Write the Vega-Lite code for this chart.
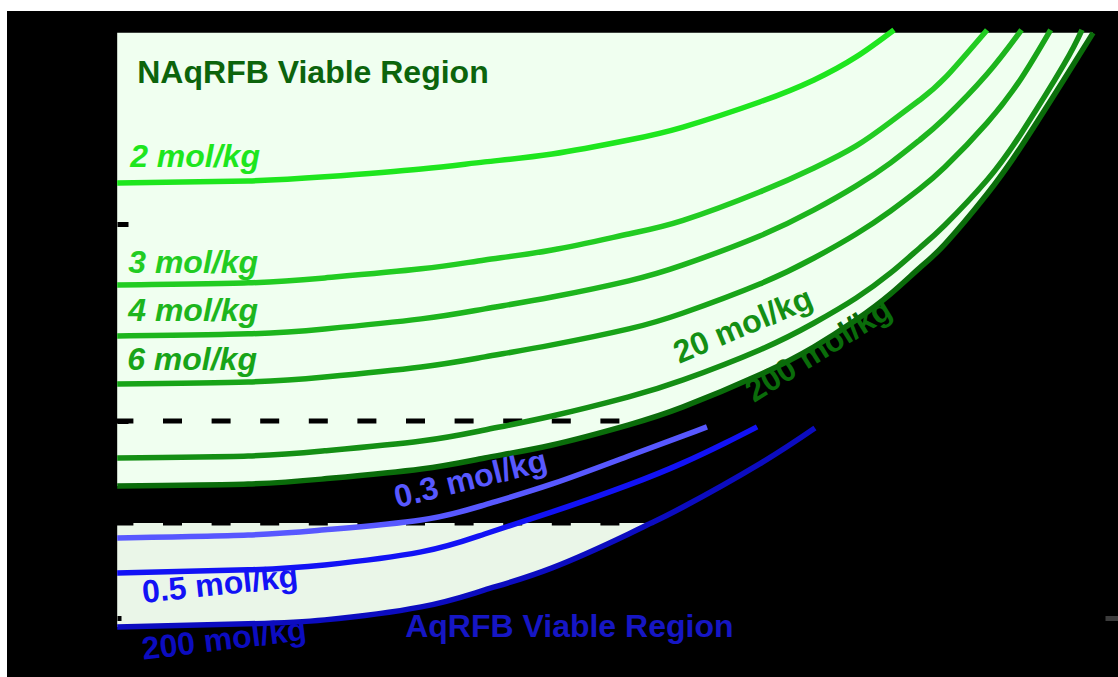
{
  "$schema": "https://vega.github.io/schema/vega-lite/v6.json",
  "width": 1111,
  "height": 666,
  "autosize": {"type": "none"},
  "padding": {"left": 7, "top": 11, "right": 0, "bottom": 0},
  "background": "white",
  "config": {
    "view": {"fill": "black", "stroke": null},
    "font": "Liberation Sans",
    "text": {"font": "Liberation Sans", "fontSize": 32, "fontWeight": "bold"}
  },
  "datasets": {
    "curves": [
      {"series": "NAq 2 mol/kg", "x": 1, "v": 3.208}, {"series": "NAq 2 mol/kg", "x": 2, "v": 3.218}, {"series": "NAq 2 mol/kg", "x": 3, "v": 3.239}, {"series": "NAq 2 mol/kg", "x": 5, "v": 3.279}, {"series": "NAq 2 mol/kg", "x": 7, "v": 3.315}, {"series": "NAq 2 mol/kg", "x": 10, "v": 3.355}, {"series": "NAq 2 mol/kg", "x": 15, "v": 3.426}, {"series": "NAq 2 mol/kg", "x": 20, "v": 3.492}, {"series": "NAq 2 mol/kg", "x": 30, "v": 3.619}, {"series": "NAq 2 mol/kg", "x": 40, "v": 3.731}, {"series": "NAq 2 mol/kg", "x": 50, "v": 3.848}, {"series": "NAq 2 mol/kg", "x": 61.1, "v": 3.985},
      {"series": "NAq 3 mol/kg", "x": 1, "v": 2.69}, {"series": "NAq 3 mol/kg", "x": 2, "v": 2.701}, {"series": "NAq 3 mol/kg", "x": 3, "v": 2.726}, {"series": "NAq 3 mol/kg", "x": 5, "v": 2.772}, {"series": "NAq 3 mol/kg", "x": 7, "v": 2.817}, {"series": "NAq 3 mol/kg", "x": 10, "v": 2.868}, {"series": "NAq 3 mol/kg", "x": 15, "v": 2.949}, {"series": "NAq 3 mol/kg", "x": 20, "v": 3.018}, {"series": "NAq 3 mol/kg", "x": 30, "v": 3.162}, {"series": "NAq 3 mol/kg", "x": 40, "v": 3.284}, {"series": "NAq 3 mol/kg", "x": 50, "v": 3.396}, {"series": "NAq 3 mol/kg", "x": 60, "v": 3.518}, {"series": "NAq 3 mol/kg", "x": 70, "v": 3.629}, {"series": "NAq 3 mol/kg", "x": 80, "v": 3.741}, {"series": "NAq 3 mol/kg", "x": 100, "v": 3.985},
      {"series": "NAq 4 mol/kg", "x": 1, "v": 2.431}, {"series": "NAq 4 mol/kg", "x": 2, "v": 2.442}, {"series": "NAq 4 mol/kg", "x": 3, "v": 2.467}, {"series": "NAq 4 mol/kg", "x": 5, "v": 2.518}, {"series": "NAq 4 mol/kg", "x": 7, "v": 2.569}, {"series": "NAq 4 mol/kg", "x": 10, "v": 2.629}, {"series": "NAq 4 mol/kg", "x": 15, "v": 2.711}, {"series": "NAq 4 mol/kg", "x": 20, "v": 2.792}, {"series": "NAq 4 mol/kg", "x": 30, "v": 2.939}, {"series": "NAq 4 mol/kg", "x": 40, "v": 3.071}, {"series": "NAq 4 mol/kg", "x": 50, "v": 3.193}, {"series": "NAq 4 mol/kg", "x": 60, "v": 3.31}, {"series": "NAq 4 mol/kg", "x": 70, "v": 3.426}, {"series": "NAq 4 mol/kg", "x": 80, "v": 3.538}, {"series": "NAq 4 mol/kg", "x": 100, "v": 3.761}, {"series": "NAq 4 mol/kg", "x": 120, "v": 3.985},
      {"series": "NAq 6 mol/kg", "x": 1, "v": 2.188}, {"series": "NAq 6 mol/kg", "x": 2, "v": 2.198}, {"series": "NAq 6 mol/kg", "x": 3, "v": 2.223}, {"series": "NAq 6 mol/kg", "x": 5, "v": 2.274}, {"series": "NAq 6 mol/kg", "x": 7, "v": 2.325}, {"series": "NAq 6 mol/kg", "x": 10, "v": 2.386}, {"series": "NAq 6 mol/kg", "x": 15, "v": 2.467}, {"series": "NAq 6 mol/kg", "x": 20, "v": 2.548}, {"series": "NAq 6 mol/kg", "x": 30, "v": 2.695}, {"series": "NAq 6 mol/kg", "x": 40, "v": 2.827}, {"series": "NAq 6 mol/kg", "x": 50, "v": 2.949}, {"series": "NAq 6 mol/kg", "x": 60, "v": 3.066}, {"series": "NAq 6 mol/kg", "x": 70, "v": 3.178}, {"series": "NAq 6 mol/kg", "x": 80, "v": 3.289}, {"series": "NAq 6 mol/kg", "x": 100, "v": 3.513}, {"series": "NAq 6 mol/kg", "x": 120, "v": 3.741}, {"series": "NAq 6 mol/kg", "x": 140, "v": 3.985},
      {"series": "NAq 20 mol/kg", "x": 1, "v": 1.812}, {"series": "NAq 20 mol/kg", "x": 2, "v": 1.822}, {"series": "NAq 20 mol/kg", "x": 3, "v": 1.848}, {"series": "NAq 20 mol/kg", "x": 5, "v": 1.898}, {"series": "NAq 20 mol/kg", "x": 7, "v": 1.954}, {"series": "NAq 20 mol/kg", "x": 10, "v": 2.025}, {"series": "NAq 20 mol/kg", "x": 15, "v": 2.122}, {"series": "NAq 20 mol/kg", "x": 20, "v": 2.208}, {"series": "NAq 20 mol/kg", "x": 30, "v": 2.36}, {"series": "NAq 20 mol/kg", "x": 40, "v": 2.497}, {"series": "NAq 20 mol/kg", "x": 50, "v": 2.624}, {"series": "NAq 20 mol/kg", "x": 60, "v": 2.751}, {"series": "NAq 20 mol/kg", "x": 70, "v": 2.878}, {"series": "NAq 20 mol/kg", "x": 80, "v": 2.995}, {"series": "NAq 20 mol/kg", "x": 100, "v": 3.223}, {"series": "NAq 20 mol/kg", "x": 120, "v": 3.462}, {"series": "NAq 20 mol/kg", "x": 150, "v": 3.807}, {"series": "NAq 20 mol/kg", "x": 165.3, "v": 3.985},
      {"series": "NAq 200 mol/kg", "x": 1, "v": 1.67}, {"series": "NAq 200 mol/kg", "x": 2, "v": 1.68}, {"series": "NAq 200 mol/kg", "x": 3, "v": 1.706}, {"series": "NAq 200 mol/kg", "x": 5, "v": 1.756}, {"series": "NAq 200 mol/kg", "x": 7, "v": 1.812}, {"series": "NAq 200 mol/kg", "x": 10, "v": 1.878}, {"series": "NAq 200 mol/kg", "x": 15, "v": 1.98}, {"series": "NAq 200 mol/kg", "x": 20, "v": 2.071}, {"series": "NAq 200 mol/kg", "x": 30, "v": 2.234}, {"series": "NAq 200 mol/kg", "x": 40, "v": 2.376}, {"series": "NAq 200 mol/kg", "x": 50, "v": 2.513}, {"series": "NAq 200 mol/kg", "x": 60, "v": 2.645}, {"series": "NAq 200 mol/kg", "x": 70, "v": 2.777}, {"series": "NAq 200 mol/kg", "x": 80, "v": 2.898}, {"series": "NAq 200 mol/kg", "x": 100, "v": 3.152}, {"series": "NAq 200 mol/kg", "x": 120, "v": 3.396}, {"series": "NAq 200 mol/kg", "x": 150, "v": 3.731}, {"series": "NAq 200 mol/kg", "x": 175.3, "v": 3.97},
      {"series": "Aq 0.3 mol/kg", "x": 1, "v": 1.406}, {"series": "Aq 0.3 mol/kg", "x": 2, "v": 1.421}, {"series": "Aq 0.3 mol/kg", "x": 3, "v": 1.447}, {"series": "Aq 0.3 mol/kg", "x": 5, "v": 1.497}, {"series": "Aq 0.3 mol/kg", "x": 7, "v": 1.574}, {"series": "Aq 0.3 mol/kg", "x": 10, "v": 1.68}, {"series": "Aq 0.3 mol/kg", "x": 15, "v": 1.822}, {"series": "Aq 0.3 mol/kg", "x": 20, "v": 1.924}, {"series": "Aq 0.3 mol/kg", "x": 22.7, "v": 1.97},
      {"series": "Aq 0.5 mol/kg", "x": 1, "v": 1.228}, {"series": "Aq 0.5 mol/kg", "x": 2, "v": 1.244}, {"series": "Aq 0.5 mol/kg", "x": 3, "v": 1.269}, {"series": "Aq 0.5 mol/kg", "x": 5, "v": 1.335}, {"series": "Aq 0.5 mol/kg", "x": 7, "v": 1.426}, {"series": "Aq 0.5 mol/kg", "x": 10, "v": 1.538}, {"series": "Aq 0.5 mol/kg", "x": 15, "v": 1.675}, {"series": "Aq 0.5 mol/kg", "x": 20, "v": 1.787}, {"series": "Aq 0.5 mol/kg", "x": 25, "v": 1.888}, {"series": "Aq 0.5 mol/kg", "x": 29.6, "v": 1.97},
      {"series": "Aq 200 mol/kg", "x": 1, "v": 0.954}, {"series": "Aq 200 mol/kg", "x": 2, "v": 0.97}, {"series": "Aq 200 mol/kg", "x": 3, "v": 0.99}, {"series": "Aq 200 mol/kg", "x": 5, "v": 1.056}, {"series": "Aq 200 mol/kg", "x": 7, "v": 1.142}, {"series": "Aq 200 mol/kg", "x": 10, "v": 1.254}, {"series": "Aq 200 mol/kg", "x": 15, "v": 1.426}, {"series": "Aq 200 mol/kg", "x": 16.89, "v": 1.482}, {"series": "Aq 200 mol/kg", "x": 20, "v": 1.563}, {"series": "Aq 200 mol/kg", "x": 30, "v": 1.782}, {"series": "Aq 200 mol/kg", "x": 40.2, "v": 1.964}
    ],
    "limits": [
      {"limit": "nonaqueous", "v": 2.0},
      {"limit": "aqueous", "v": 1.482}
    ]
  },
  "layer": [
    {
      "description": "Viable region above the 200 mol/kg nonaqueous curve",
      "data": {"name": "curves"},
      "transform": [{"filter": "datum.series === 'NAq 200 mol/kg'"}],
      "mark": {"type": "area", "color": "#f0fff0", "interpolate": "natural"},
      "encoding": {
        "x": {
          "field": "x", "type": "quantitative", "title": null,
          "scale": {"type": "log", "domain": [0.558, 200], "nice": false},
          "axis": {
            "orient": "top", "offset": -22, "labels": false, "domain": false, "grid": false, "title": null,
            "values": [2, 3, 4, 5, 6, 7, 8, 9, 10, 20, 30, 40, 50, 60, 70, 80, 90],
            "tickColor": "black", "tickWidth": 6,
            "tickSize": {"condition": {"test": "datum.value === 10", "value": -7}, "value": -4},
            "zindex": 1
          }
        },
        "y": {
          "field": "v", "type": "quantitative", "title": null,
          "scale": {"domain": [0.7, 4.081], "nice": false, "zero": false},
          "axis": {
            "orient": "left", "offset": -110, "labels": false, "domain": false, "grid": false, "title": null,
            "values": [1, 2, 3], "tickColor": "black", "tickWidth": 5,
            "tickSize": {"condition": {"test": "datum.value === 1", "value": -4}, "value": -11},
            "zindex": 1
          }
        },
        "y2": {"datum": 3.97}
      }
    },
    {
      "description": "Viable region between the aqueous limit and the 200 mol/kg aqueous curve",
      "data": {"name": "curves"},
      "transform": [{"filter": "datum.series === 'Aq 200 mol/kg' && datum.v <= 1.4825"}],
      "mark": {"type": "area", "color": "#eaf6e8", "interpolate": "natural"},
      "encoding": {
        "x": {"field": "x", "type": "quantitative", "title": null, "axis": null},
        "y": {
          "field": "v", "type": "quantitative", "title": null,
          "axis": {
            "orient": "right", "labels": false, "domain": false, "grid": false, "title": null,
            "values": [1], "tickColor": "#3c3c3c", "tickWidth": 5, "tickSize": -13, "zindex": 1
          }
        },
        "y2": {"datum": 1.482}
      }
    },
    {
      "data": {"name": "limits"},
      "mark": {"type": "rule", "color": "black", "strokeWidth": 5, "strokeDash": [19, 29.6], "strokeDashOffset": 36},
      "encoding": {
        "y": {"field": "v", "type": "quantitative", "title": null, "axis": null}
      }
    },
    {
      "data": {"name": "curves"},
      "mark": {"type": "line", "strokeWidth": 5.5, "interpolate": "natural"},
      "encoding": {
        "x": {"field": "x", "type": "quantitative", "title": null, "axis": null},
        "y": {"field": "v", "type": "quantitative", "title": null, "axis": null},
        "detail": {"field": "series"},
        "color": {
          "field": "series", "type": "nominal", "legend": null,
          "scale": {
            "domain": ["NAq 2 mol/kg", "NAq 3 mol/kg", "NAq 4 mol/kg", "NAq 6 mol/kg", "NAq 20 mol/kg", "NAq 200 mol/kg", "Aq 0.3 mol/kg", "Aq 0.5 mol/kg", "Aq 200 mol/kg", "NAqRFB region", "AqRFB region"],
            "range": ["#1ee61e", "#22cc22", "#1db51d", "#18a418", "#148f14", "#0a6c0a", "#5858ff", "#1212f5", "#0c0cc0", "#0c640c", "#1616c4"]
          }
        }
      }
    },
    {
      "data": {"values": [
        {"label": "2 mol/kg", "series": "NAq 2 mol/kg", "x": 1.071, "v": 3.289},
        {"label": "3 mol/kg", "series": "NAq 3 mol/kg", "x": 1.06, "v": 2.751},
        {"label": "4 mol/kg", "series": "NAq 4 mol/kg", "x": 1.06, "v": 2.508},
        {"label": "6 mol/kg", "series": "NAq 6 mol/kg", "x": 1.054, "v": 2.259}
      ]},
      "mark": {"type": "text", "align": "left", "baseline": "alphabetic", "fontStyle": "italic"},
      "encoding": {
        "x": {"field": "x", "type": "quantitative", "title": null, "axis": null},
        "y": {"field": "v", "type": "quantitative", "title": null, "axis": null},
        "text": {"field": "label"},
        "color": {"field": "series", "type": "nominal", "legend": null}
      }
    },
    {
      "data": {"values": [
        {"label": "NAqRFB Viable Region", "series": "NAqRFB region", "x": 1.112, "v": 3.716},
        {"label": "AqRFB Viable Region", "series": "AqRFB region", "x": 4.593, "v": 0.904}
      ]},
      "mark": {"type": "text", "align": "left", "baseline": "alphabetic"},
      "encoding": {
        "x": {"field": "x", "type": "quantitative", "title": null, "axis": null},
        "y": {"field": "v", "type": "quantitative", "title": null, "axis": null},
        "text": {"field": "label"},
        "color": {"field": "series", "type": "nominal", "legend": null}
      }
    },
    {
      "data": {"values": [{"label": "20 mol/kg", "series": "NAq 20 mol/kg", "x": 19.59, "v": 2.289}]},
      "mark": {"type": "text", "align": "left", "baseline": "alphabetic", "angle": 337},
      "encoding": {
        "x": {"field": "x", "type": "quantitative", "title": null, "axis": null},
        "y": {"field": "v", "type": "quantitative", "title": null, "axis": null},
        "text": {"field": "label"},
        "color": {"field": "series", "type": "nominal", "legend": null}
      }
    },
    {
      "data": {"values": [{"label": "200 mol/kg", "series": "NAq 200 mol/kg", "x": 29.1, "v": 2.091}]},
      "mark": {"type": "text", "align": "left", "baseline": "alphabetic", "angle": 328},
      "encoding": {
        "x": {"field": "x", "type": "quantitative", "title": null, "axis": null},
        "y": {"field": "v", "type": "quantitative", "title": null, "axis": null},
        "text": {"field": "label"},
        "color": {"field": "series", "type": "nominal", "legend": null}
      }
    },
    {
      "data": {"values": [{"label": "0.3 mol/kg", "series": "Aq 0.3 mol/kg", "x": 4.403, "v": 1.558}]},
      "mark": {"type": "text", "align": "left", "baseline": "alphabetic", "angle": 346},
      "encoding": {
        "x": {"field": "x", "type": "quantitative", "title": null, "axis": null},
        "y": {"field": "v", "type": "quantitative", "title": null, "axis": null},
        "text": {"field": "label"},
        "color": {"field": "series", "type": "nominal", "legend": null}
      }
    },
    {
      "data": {"values": [{"label": "0.5 mol/kg", "series": "Aq 0.5 mol/kg", "x": 1.148, "v": 1.076}]},
      "mark": {"type": "text", "align": "left", "baseline": "alphabetic", "angle": 354},
      "encoding": {
        "x": {"field": "x", "type": "quantitative", "title": null, "axis": null},
        "y": {"field": "v", "type": "quantitative", "title": null, "axis": null},
        "text": {"field": "label"},
        "color": {"field": "series", "type": "nominal", "legend": null}
      }
    },
    {
      "data": {"values": [{"label": "200 mol/kg", "series": "Aq 200 mol/kg", "x": 1.148, "v": 0.787}]},
      "mark": {"type": "text", "align": "left", "baseline": "alphabetic", "angle": 353},
      "encoding": {
        "x": {"field": "x", "type": "quantitative", "title": null, "axis": null},
        "y": {"field": "v", "type": "quantitative", "title": null, "axis": null},
        "text": {"field": "label"},
        "color": {"field": "series", "type": "nominal", "legend": null}
      }
    }
  ],
  "resolve": {"axis": {"y": "independent"}}
}
